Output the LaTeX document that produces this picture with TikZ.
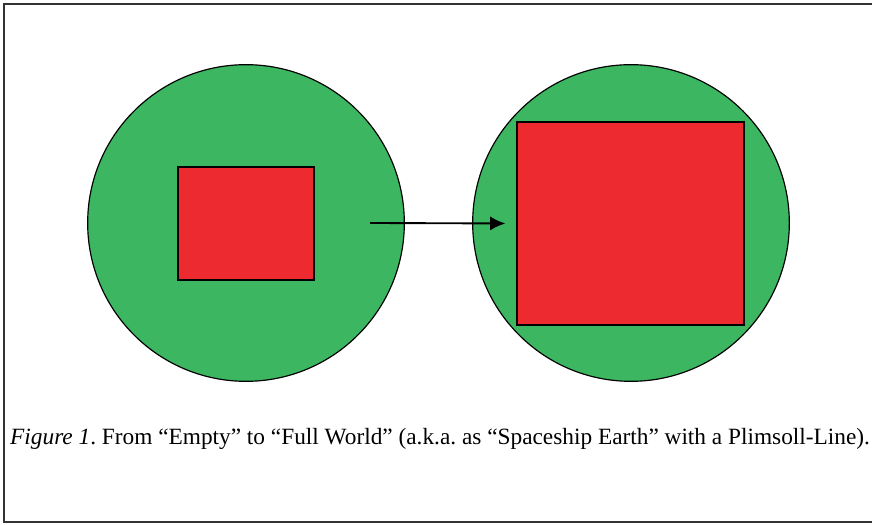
\documentclass[tikz,border=0pt]{standalone}
\usepackage{fontspec}
\setmainfont{Liberation Serif}
\usepackage{tikz}
\usetikzlibrary{arrows.meta,positioning}
\definecolor{EarthGreen}{HTML}{3CB661}
\definecolor{LoadRed}{HTML}{EC2A2F}
\definecolor{FrameGray}{HTML}{333333}

\begin{document}
\frenchspacing
\begin{tikzpicture}[
    x=0.3mm, y=-0.3mm,
    world/.style={
      circle,
      draw=black,
      fill=EarthGreen,
      line width=1pt,
      minimum size=95mm,
      inner sep=0pt
    },
    load/.style={
      draw=black,
      fill=LoadRed,
      line width=1pt,
      inner sep=0pt
    },
    arr/.style={
      -{Latex[length=13pt,width=12pt]},
      line width=1.6pt,
      shorten >=3.3mm
    },
    caption/.style={
      font=\fontsize{19.9}{23}\selectfont,
      anchor=base west,
      inner sep=0pt
    }
  ]
  \useasboundingbox (0,0) rectangle (872,525);

  % outer frame
  \draw[FrameGray, line width=1.6pt] (880,4) -- (4,4) -- (4,522) -- (880,522);

  \node[world] (empty) at (246,223) {};
  \node[world] (full)  at (631,223) {};

  \node[load, minimum width=40.8mm, minimum height=33.9mm] (small) at (246,223.5) {};
  \node[load, minimum width=68.1mm, minimum height=60.9mm] (big)   at (630.5,223.5) {};

  \coordinate (start) at (370,223);
  \draw[arr] (start) -- (big.west);

  \node[caption] (cap) at (10,445)
    {\textit{Figure 1}. From “Empty” to “Full World” (a.k.a. as “Spaceship Earth” with a Plimsoll-Line).};

\end{tikzpicture}
\end{document}
